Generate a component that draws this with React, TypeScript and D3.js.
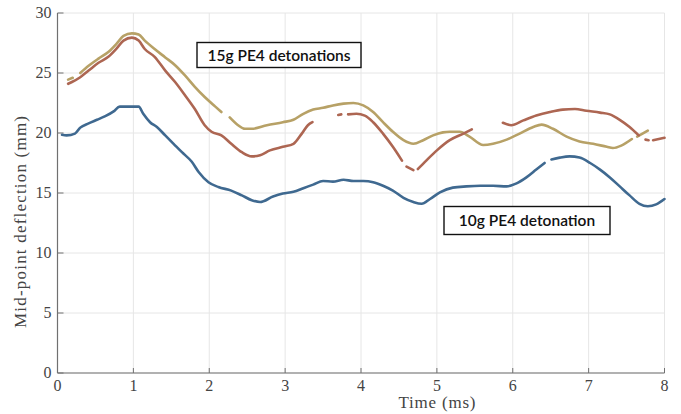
import React from "react";
import * as d3 from "d3";

// time axis (ms) and deflection (mm); null = gap in the trace
const blueT = [0.06, 0.12, 0.23, 0.3, 0.41, 0.52, 0.63, 0.74, 0.82, 0.93, 1.07, 1.13, 1.22, 1.31, 1.42, 1.53, 1.64, 1.77, 1.86, 1.99, 2.12, 2.29, 2.43, 2.56, 2.67, 2.84, 2.97, 3.11, 3.24, 3.37, 3.5, 3.63, 3.77, 3.9, 4.03, 4.16, 4.29, 4.42, 4.56, 4.69, 4.8, 4.91, 5.04, 5.21, 5.39, 5.57, 5.74, 5.92, 6.05, 6.18, 6.31, 6.42, 6.46, 6.51, 6.62, 6.75, 6.88, 7.02, 7.15, 7.28, 7.41, 7.54, 7.67, 7.78, 7.89, 8.0];
const blueV = [19.85, 19.8, 19.95, 20.45, 20.8, 21.1, 21.4, 21.8, 22.2, 22.2, 22.2, 21.6, 20.9, 20.5, 19.8, 19.1, 18.4, 17.6, 16.75, 15.9, 15.5, 15.2, 14.8, 14.4, 14.25, 14.7, 14.95, 15.1, 15.4, 15.7, 16.0, 15.95, 16.1, 16.0, 16.0, 15.9, 15.6, 15.2, 14.6, 14.25, 14.1, 14.5, 15.05, 15.45, 15.55, 15.6, 15.6, 15.55, 15.8, 16.3, 16.95, 17.5, null, 17.8, 17.95, 18.05, 17.95, 17.5, 16.95, 16.3, 15.55, 14.8, 14.1, 13.9, 14.05, 14.5];

const redT = [0.14, 0.19, 0.3, 0.41, 0.54, 0.67, 0.78, 0.87, 0.98, 1.07, 1.15, 1.28, 1.42, 1.55, 1.68, 1.81, 1.94, 2.03, 2.16, 2.29, 2.43, 2.56, 2.67, 2.8, 2.97, 3.11, 3.22, 3.3, 3.36, 3.5, 3.7, 3.74, 3.78, 3.83, 3.94, 4.05, 4.16, 4.29, 4.42, 4.54, 4.57, 4.6, 4.69, 4.72, 4.75, 4.86, 5.0, 5.17, 5.35, 5.46, 5.7, 5.87, 5.98, 6.14, 6.31, 6.49, 6.66, 6.82, 6.97, 7.15, 7.28, 7.41, 7.54, 7.66, 7.71, 7.75, 7.79, 7.82, 7.85, 8.0];
const redV = [24.1, 24.25, 24.65, 25.2, 25.85, 26.35, 27.05, 27.7, 27.95, 27.7, 27.0, 26.35, 25.2, 24.25, 23.15, 22.0, 20.65, 20.1, 19.8, 19.1, 18.4, 18.05, 18.15, 18.55, 18.85, 19.1, 19.95, 20.65, 20.9, null, 21.5, 21.55, null, 21.55, 21.6, 21.45, 20.9, 19.95, 18.85, 17.7, null, 17.2, 16.9, null, 17.0, 17.7, 18.55, 19.4, 19.95, 20.3, null, 20.85, 20.65, 21.05, 21.45, 21.75, 21.95, 22.0, 21.85, 21.7, 21.55, 21.1, 20.5, 19.8, null, 19.45, 19.4, null, 19.4, 19.6];

const goldT = [0.14, 0.2, 0.25, 0.3, 0.41, 0.54, 0.67, 0.78, 0.87, 0.98, 1.07, 1.15, 1.28, 1.42, 1.55, 1.68, 1.81, 1.94, 2.08, 2.16, 2.22, 2.27, 2.38, 2.47, 2.56, 2.76, 2.97, 3.11, 3.24, 3.37, 3.5, 3.63, 3.77, 3.9, 4.03, 4.16, 4.29, 4.42, 4.56, 4.69, 4.82, 4.95, 5.08, 5.17, 5.3, 5.43, 5.61, 5.74, 5.92, 6.09, 6.27, 6.38, 6.53, 6.71, 6.88, 7.06, 7.24, 7.32, 7.43, 7.57, 7.6, 7.64, 7.78];
const goldV = [24.45, 24.6, null, 25.0, 25.6, 26.2, 26.75, 27.45, 28.1, 28.3, 28.2, 27.7, 27.0, 26.3, 25.65, 24.8, 23.85, 23.0, 22.2, 21.75, null, 21.3, 20.65, 20.35, 20.35, 20.65, 20.9, 21.1, 21.6, 21.95, 22.1, 22.3, 22.45, 22.5, 22.3, 21.75, 20.9, 20.1, 19.4, 19.1, 19.4, 19.8, 20.05, 20.1, 20.1, 19.7, 19.0, 19.1, 19.45, 19.95, 20.5, 20.7, 20.35, 19.7, 19.3, 19.1, 18.85, 18.75, 18.95, 19.5, null, 19.7, 20.2];

const xTicks = [0, 1, 2, 3, 4, 5, 6, 7, 8];
const yTicks = [0, 5, 10, 15, 20, 25, 30];

const series = [
  { t: goldT, v: goldV, color: "#b7a166" },
  { t: redT, v: redV, color: "#ad6652" },
  { t: blueT, v: blueV, color: "#3f6990" },
];

const notes = [
  { text: "15g PE4 detonations", x0: 197, y0: 42.5, x1: 361, y1: 67.5 },
  { text: "10g PE4 detonation", x0: 444, y0: 206.5, x1: 610, y1: 234.5 },
];

const App = () => {
  const W = 681,
    H = 414;
  const x = d3.scaleLinear().domain([0, 8]).range([57.5, 664.5]);
  const y = d3.scaleLinear().domain([0, 30]).range([373, 13]);
  const serif = "Liberation Serif, DejaVu Serif, serif";

  const line = d3
    .line<[number, number | null]>()
    .defined((d) => d[1] !== null)
    .x((d) => x(d[0]))
    .y((d) => y(d[1] as number))
    .curve(d3.curveMonotoneX);

  return (
    <svg
      width={W}
      height={H}
      style={{ position: "absolute", left: 0, top: 0, background: "#fff" }}
    >
      {/* grid */}
      {xTicks.map((t) => (
        <line key={"gx" + t} x1={x(t)} x2={x(t)} y1={y(30)} y2={y(0)} stroke="#e6e6e6" />
      ))}
      {yTicks.map((t) => (
        <line key={"gy" + t} x1={x(0)} x2={x(8)} y1={y(t)} y2={y(t)} stroke="#e6e6e6" />
      ))}

      {/* axes */}
      <line x1={x(0)} x2={x(0)} y1={y(30)} y2={y(0)} stroke="#707070" strokeWidth={1.2} />
      <line x1={x(0)} x2={x(8)} y1={y(0)} y2={y(0)} stroke="#707070" strokeWidth={1.2} />
      {xTicks.map((t) => (
        <g key={"xt" + t}>
          <line x1={x(t)} x2={x(t)} y1={y(0)} y2={y(0) - 5} stroke="#707070" />
          <text x={x(t)} y={y(0) + 18} textAnchor="middle" fontFamily={serif} fontSize={16} fill="#444">
            {t}
          </text>
        </g>
      ))}
      {yTicks.map((t) => (
        <g key={"yt" + t}>
          <line x1={x(0)} x2={x(0) + 6} y1={y(t)} y2={y(t)} stroke="#707070" />
          <text x={x(0) - 6} y={y(t) + 5} textAnchor="end" fontFamily={serif} fontSize={16} fill="#444">
            {t}
          </text>
        </g>
      ))}
      <text x={437} y={408} textAnchor="middle" fontFamily={serif} fontSize={17} fill="#444" textLength={77}>
        Time (ms)
      </text>
      <text
        transform="translate(26,222) rotate(-90)"
        textAnchor="middle"
        fontFamily={serif}
        fontSize={17}
        fill="#444"
        textLength={212}
      >
        Mid-point deflection (mm)
      </text>

      {/* traces */}
      {series.map((s, i) => (
        <path
          key={i}
          d={line(s.t.map((t, j) => [t, s.v[j]]) as [number, number | null][]) || ""}
          fill="none"
          stroke={s.color}
          strokeWidth={2.6}
          strokeLinecap="round"
        />
      ))}

      {/* annotations */}
      {notes.map((n, i) => (
        <g key={"n" + i}>
          <rect x={n.x0} y={n.y0} width={n.x1 - n.x0} height={n.y1 - n.y0} fill="#fff" stroke="#111" strokeWidth={1.4} />
          <text
            x={(n.x0 + n.x1) / 2}
            y={(n.y0 + n.y1) / 2 + 5.5}
            textAnchor="middle"
            fontFamily="Lato, sans-serif"
            fontWeight={600}
            fontSize={15.5}
            fill="#111"
          >
            {n.text}
          </text>
        </g>
      ))}
    </svg>
  );
};

export default App;
